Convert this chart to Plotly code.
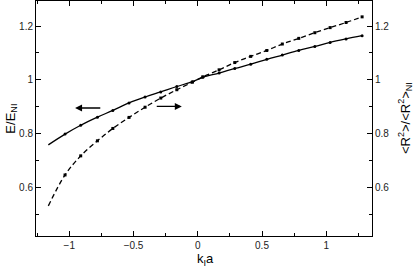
import plotly.graph_objects as go

# Curve start points (no marker)
x_start = -1.163
e_start = 0.758
r_start = 0.531

# Marker positions (k_I a)
x_pts = [-1.033, -0.911, -0.781, -0.661, -0.535, -0.410, -0.288, -0.163, -0.042,
         0.039, 0.166, 0.288, 0.412, 0.537, 0.658, 0.786, 0.911, 1.030, 1.154, 1.279]
# E/E_NI (solid, left axis)
e_vals = [0.798, 0.831, 0.861, 0.886, 0.914, 0.936, 0.955, 0.975, 0.993,
          1.009, 1.025, 1.042, 1.058, 1.076, 1.092, 1.109, 1.124, 1.139, 1.152, 1.164]
# <R^2>/<R^2>_NI (dashed, right axis)
r_vals = [0.646, 0.717, 0.773, 0.819, 0.860, 0.898, 0.932, 0.963, 0.991,
          1.011, 1.037, 1.064, 1.087, 1.109, 1.133, 1.154, 1.175, 1.194, 1.213, 1.234]

x_range = [-1.259, 1.356]
y_range = [0.419, 1.293]

font = "Liberation Sans, Arial, sans-serif"

fig = go.Figure()
fig.add_trace(go.Scatter(x=[x_start] + x_pts, y=[e_start] + e_vals, mode="lines",
                         line=dict(color="black", width=1.3, shape="spline"),
                         showlegend=False, hoverinfo="skip"))
fig.add_trace(go.Scatter(x=x_pts, y=e_vals, mode="markers",
                         marker=dict(color="black", size=3, symbol="circle"),
                         showlegend=False))
fig.add_trace(go.Scatter(x=[x_start] + x_pts, y=[r_start] + r_vals, mode="lines",
                         line=dict(color="black", width=1.3, dash="5px,3px", shape="spline"),
                         showlegend=False, hoverinfo="skip", yaxis="y2"))
fig.add_trace(go.Scatter(x=x_pts, y=r_vals, mode="markers",
                         marker=dict(color="black", size=3, symbol="square"),
                         showlegend=False, yaxis="y2"))

# Arrows: (head_x, head_y, tail_x, tail_y)
arrows = [(-0.955, 0.895, -0.747, 0.895), (-0.124, 0.901, -0.331, 0.901)]
for hx, hy, tx, ty in arrows:
    fig.add_annotation(x=hx, y=hy, ax=tx, ay=ty, xref="x", yref="y", axref="x", ayref="y",
                       text="", showarrow=True, arrowhead=2, arrowsize=1.0,
                       arrowwidth=1.4, arrowcolor="black")

# Axis titles as annotations (paper coordinates)
titles = [
    dict(text="k<sub>I</sub>a", x=0.503, y=-0.1, textangle=0),
    dict(text="E/E<sub>NI</sub>", x=-0.074, y=0.5, textangle=-90),
    dict(text="&lt;R<sup>2</sup>&gt;/&lt;R<sup>2</sup>&gt;<sub>NI</sub>", x=1.097, y=0.5, textangle=-90),
]
for t in titles:
    fig.add_annotation(text=t["text"], x=t["x"], y=t["y"], xref="paper", yref="paper",
                       xanchor="center", yanchor="middle", textangle=t["textangle"],
                       showarrow=False, font=dict(family=font, size=13, color="black"))

axis_common = dict(showline=True, linecolor="black", linewidth=1, ticks="inside",
                   tickcolor="black", ticklen=5, tickwidth=1, showgrid=False,
                   zeroline=False, automargin=False,
                   tickfont=dict(family=font, size=10, color="#222"))

fig.update_layout(
    width=415, height=268,
    margin=dict(l=36, r=43, t=1, b=32),
    paper_bgcolor="white", plot_bgcolor="white",
    font=dict(family=font, color="black"),
    xaxis=dict(range=x_range, dtick=0.5, tick0=0, mirror="ticks",
               minor=dict(ticks="inside", ticklen=3, dtick=0.25, tickcolor="black"),
               **axis_common),
    yaxis=dict(range=y_range, dtick=0.2, tick0=0,
               minor=dict(ticks="inside", ticklen=3, dtick=0.1, tickcolor="black"),
               **axis_common),
    yaxis2=dict(range=y_range, dtick=0.2, tick0=0, overlaying="y", side="right",
                minor=dict(ticks="inside", ticklen=3, dtick=0.1, tickcolor="black"),
                **axis_common),
)

fig.write_html("out.html", config={"displayModeBar": False},
               post_script="document.body.style.margin='0';")
